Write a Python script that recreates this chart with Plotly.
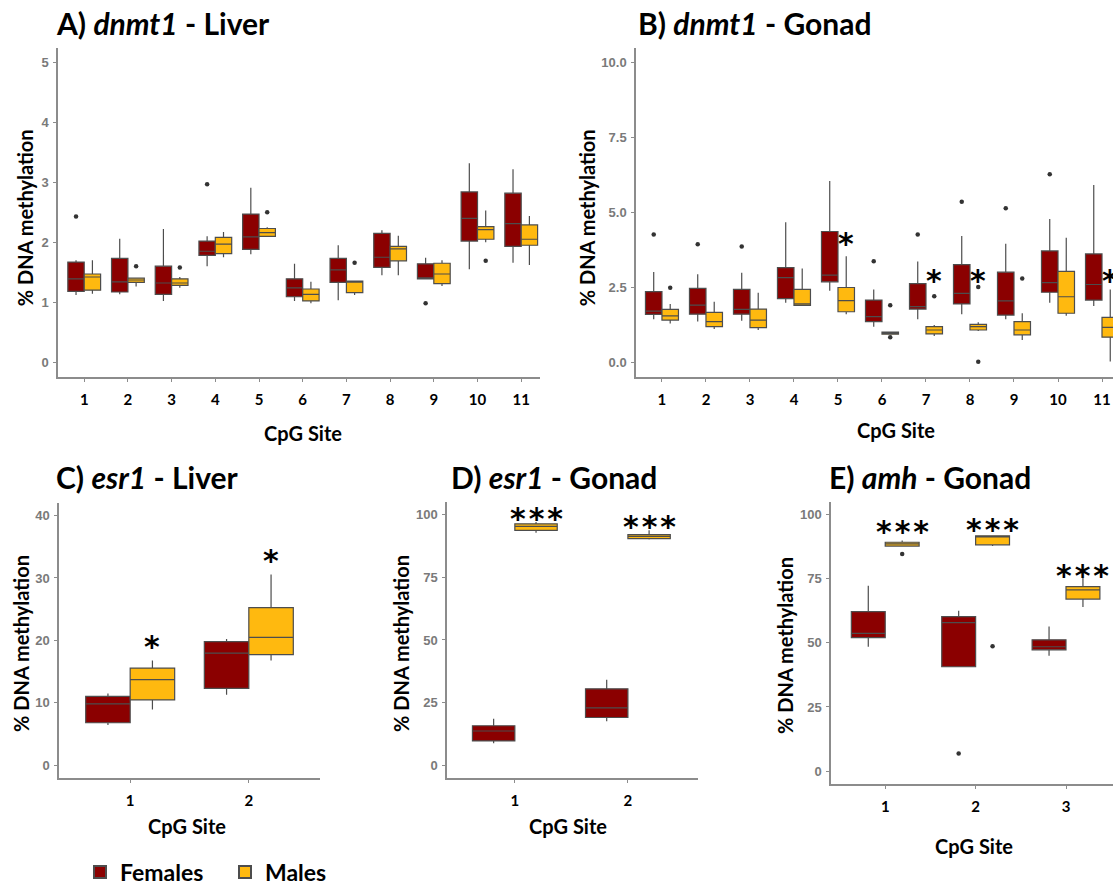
import plotly.graph_objects as go

W, H = 1113, 894
FEMALE = "#8B0000"
MALE = "#FFB90F"
OFF = 0.1875
BW = 0.375

# ---------------- Panel A: dnmt1 - Liver ----------------
a_sites = list(range(1, 12))
a_f_low = [1.12, 1.13, 1.02, 1.60, 1.80, 1.02, 1.03, 1.45, 1.39, 1.55, 1.66]
a_f_q1 = [1.18, 1.17, 1.13, 1.78, 1.88, 1.09, 1.33, 1.58, 1.39, 2.02, 1.93]
a_f_med = [1.39, 1.34, 1.32, 1.85, 2.09, 1.24, 1.54, 1.75, 1.39, 2.40, 2.31]
a_f_q3 = [1.67, 1.73, 1.60, 2.02, 2.47, 1.39, 1.73, 2.15, 1.64, 2.84, 2.82]
a_f_high = [1.70, 2.06, 2.22, 2.10, 2.91, 1.64, 1.95, 2.20, 1.74, 3.32, 3.22]
a_f_out_site = [1, 4, 9]
a_f_out_val = [2.43, 2.97, 0.98]
a_m_low = [1.14, 1.26, 1.24, 1.75, 2.10, 0.98, 1.12, 1.45, 1.27, 2.00, 1.62]
a_m_q1 = [1.20, 1.33, 1.28, 1.81, 2.10, 1.02, 1.16, 1.69, 1.31, 2.05, 1.95]
a_m_med = [1.42, 1.37, 1.32, 1.97, 2.16, 1.13, 1.34, 1.89, 1.47, 2.21, 2.05]
a_m_q3 = [1.47, 1.40, 1.39, 2.08, 2.23, 1.22, 1.35, 1.93, 1.65, 2.26, 2.29]
a_m_high = [1.70, 1.41, 1.42, 2.17, 2.25, 1.34, 1.36, 2.11, 1.70, 2.53, 2.44]
a_m_out_site = [2, 3, 5, 7, 10]
a_m_out_val = [1.60, 1.58, 2.50, 1.66, 1.69]
a_sig_site = []
a_sig_val = []
a_sig_text = []
a_yticks = [0, 1, 2, 3, 4, 5]
a_yticklabels = ["0", "1", "2", "3", "4", "5"]

# ---------------- Panel B: dnmt1 - Gonad ----------------
b_sites = list(range(1, 12))
b_f_low = [1.43, 1.35, 1.38, 1.98, 2.38, 1.18, 1.43, 1.60, 1.43, 1.98, 1.87]
b_f_q1 = [1.59, 1.60, 1.60, 2.12, 2.68, 1.35, 1.77, 1.94, 1.57, 2.33, 2.07]
b_f_med = [1.70, 1.90, 1.76, 2.82, 2.90, 1.52, 1.85, 2.29, 2.04, 2.65, 2.59]
b_f_q3 = [2.35, 2.46, 2.43, 3.15, 4.36, 2.07, 2.62, 3.25, 3.00, 3.71, 3.61]
b_f_high = [3.01, 2.93, 2.98, 4.67, 6.05, 2.42, 3.36, 4.21, 3.95, 4.78, 5.91]
b_f_out_site = [1, 2, 3, 6, 7, 8, 9, 10]
b_f_out_val = [4.26, 3.93, 3.86, 3.37, 4.26, 5.35, 5.14, 6.27]
b_m_low = [1.29, 1.10, 1.07, 1.89, 1.60, 0.93, 0.87, 1.04, 0.74, 1.55, 0.02]
b_m_q1 = [1.40, 1.18, 1.15, 1.89, 1.68, 0.93, 0.94, 1.07, 0.91, 1.63, 0.83]
b_m_med = [1.54, 1.35, 1.40, 1.94, 2.05, 0.96, 1.07, 1.18, 1.07, 2.18, 1.16]
b_m_q3 = [1.76, 1.66, 1.77, 2.43, 2.49, 1.00, 1.18, 1.26, 1.35, 3.03, 1.49]
b_m_high = [1.94, 2.01, 2.31, 3.12, 3.53, 1.00, 1.24, 1.33, 1.63, 4.15, 2.42]
b_m_out_site = [1, 6, 6, 7, 8, 8, 9]
b_m_out_val = [2.48, 1.90, 0.83, 2.20, 2.51, 0.01, 2.79]
b_sig_site = [5, 7, 8, 11]
b_sig_val = [4.23, 3.0, 3.0, 3.0]
b_sig_text = ["*", "*", "*", "*"]
b_yticks = [0, 2.5, 5, 7.5, 10]
b_yticklabels = ["0.0", "2.5", "5.0", "7.5", "10.0"]

# ---------------- Panel C: esr1 - Liver ----------------
c_sites = [1, 2]
c_f_low = [6.45, 11.32]
c_f_q1 = [6.82, 12.32]
c_f_med = [9.86, 17.98]
c_f_q3 = [11.06, 19.82]
c_f_high = [11.5, 20.24]
c_f_out_site = []
c_f_out_val = []
c_m_low = [8.96, 16.78]
c_m_q1 = [10.48, 17.72]
c_m_med = [13.74, 20.50]
c_m_q3 = [15.57, 25.27]
c_m_high = [16.78, 30.56]
c_m_out_site = []
c_m_out_val = []
c_sig_site = [1, 2]
c_sig_val = [20.3, 34.1]
c_sig_text = ["*", "*"]
c_yticks = [0, 10, 20, 30, 40]
c_yticklabels = ["0", "10", "20", "30", "40"]

# ---------------- Panel D: esr1 - Gonad ----------------
d_sites = [1, 2]
d_f_low = [8.82, 17.6]
d_f_q1 = [9.74, 19.08]
d_f_med = [13.68, 22.9]
d_f_q3 = [15.79, 30.5]
d_f_high = [18.55, 34.1]
d_f_out_site = []
d_f_out_val = []
d_m_low = [92.8, 90.1]
d_m_q1 = [93.7, 90.4]
d_m_med = [95.26, 91.3]
d_m_q3 = [96.3, 92.0]
d_m_high = [97.0, 93.7]
d_m_out_site = []
d_m_out_val = []
d_sig_site = [1, 2]
d_sig_val = [101.6, 98.3]
d_sig_text = ["*\u200a*\u200a*", "*\u200a*\u200a*"]
d_yticks = [0, 25, 50, 75, 100]
d_yticklabels = ["0", "25", "50", "75", "100"]

# ---------------- Panel E: amh - Gonad ----------------
e_sites = [1, 2, 3]
e_f_low = [48.5, 40.7, 45.0]
e_f_q1 = [52.1, 40.7, 47.3]
e_f_med = [53.7, 57.9, 48.5]
e_f_q3 = [62.2, 60.3, 51.2]
e_f_high = [72.3, 62.6, 56.4]
e_f_out_site = [2]
e_f_out_val = [6.8]
e_m_low = [87.8, 87.8, 64.0]
e_m_q1 = [87.8, 88.3, 67.1]
e_m_med = [88.7, 91.5, 70.7]
e_m_q3 = [89.3, 91.8, 72.0]
e_m_high = [90.0, 91.8, 75.4]
e_m_out_site = [1, 2]
e_m_out_val = [84.7, 48.7]
e_sig_site = [1, 2, 3]
e_sig_val = [96.8, 97.3, 79.4]
e_sig_text = ["*\u200a*\u200a*", "*\u200a*\u200a*", "*\u200a*\u200a*"]
e_yticks = [0, 25, 50, 75, 100]
e_yticklabels = ["0", "25", "50", "75", "100"]

panels = [
    dict(key="A", sites=a_sites,
         f=(a_f_low, a_f_q1, a_f_med, a_f_q3, a_f_high), fo=(a_f_out_site, a_f_out_val),
         m=(a_m_low, a_m_q1, a_m_med, a_m_q3, a_m_high), mo=(a_m_out_site, a_m_out_val),
         sig=(a_sig_site, a_sig_val, a_sig_text), yt=(a_yticks, a_yticklabels),
         xd=(58, 540), yd=(48, 380), xr=(0.4, 11.43), yr=(-0.25, 5.25),
         title="<b>A) <i>dnmt1</i> - Liver</b>", tpos=(54, 23),
         ytitle=(25, 220), xtitle=(303, 436)),
    dict(key="B", sites=b_sites,
         f=(b_f_low, b_f_q1, b_f_med, b_f_q3, b_f_high), fo=(b_f_out_site, b_f_out_val),
         m=(b_m_low, b_m_q1, b_m_med, b_m_q3, b_m_high), mo=(b_m_out_site, b_m_out_val),
         sig=(b_sig_site, b_sig_val, b_sig_text), yt=(b_yticks, b_yticklabels),
         xd=(636, 1113), yd=(48, 380), xr=(0.41, 11.25), yr=(-0.5, 10.5),
         title="<b>B) <i>dnmt1</i> - Gonad</b>", tpos=(636, 23),
         ytitle=(587, 220), xtitle=(896, 433)),
    dict(key="C", sites=c_sites,
         f=(c_f_low, c_f_q1, c_f_med, c_f_q3, c_f_high), fo=(c_f_out_site, c_f_out_val),
         m=(c_m_low, c_m_q1, c_m_med, c_m_q3, c_m_high), mo=(c_m_out_site, c_m_out_val),
         sig=(c_sig_site, c_sig_val, c_sig_text), yt=(c_yticks, c_yticklabels),
         xd=(59, 320), yd=(507, 784), xr=(0.4, 2.6), yr=(-2, 42),
         title="<b>C) <i>esr1</i> - Liver</b>", tpos=(54, 481),
         ytitle=(21, 649), xtitle=(187, 833)),
    dict(key="D", sites=d_sites,
         f=(d_f_low, d_f_q1, d_f_med, d_f_q3, d_f_high), fo=(d_f_out_site, d_f_out_val),
         m=(d_m_low, d_m_q1, d_m_med, d_m_q3, d_m_high), mo=(d_m_out_site, d_m_out_val),
         sig=(d_sig_site, d_sig_val, d_sig_text), yt=(d_yticks, d_yticklabels),
         xd=(447, 698), yd=(506, 784), xr=(0.4, 2.62), yr=(-5, 105),
         title="<b>D) <i>esr1</i> - Gonad</b>", tpos=(449, 481),
         ytitle=(401, 649), xtitle=(568, 833)),
    dict(key="E", sites=e_sites,
         f=(e_f_low, e_f_q1, e_f_med, e_f_q3, e_f_high), fo=(e_f_out_site, e_f_out_val),
         m=(e_m_low, e_m_q1, e_m_med, e_m_q3, e_m_high), mo=(e_m_out_site, e_m_out_val),
         sig=(e_sig_site, e_sig_val, e_sig_text), yt=(e_yticks, e_yticklabels),
         xd=(831, 1113), yd=(506, 790), xr=(0.4, 3.52), yr=(-5, 105),
         title="<b>E) <i>amh</i> - Gonad</b>", tpos=(827, 481),
         ytitle=(785, 651), xtitle=(974, 853)),
]

fig = go.Figure()
annotations = []
layout_axes = {}

AXCOL = "#8c8c8c"
TITLE_FONT = dict(family="Lato", size=30, color="black")
LAB_FONT = dict(family="Lato", size=20, color="black", weight="bold")
SIG_FONT = dict(family="DejaVu Sans", size=30, color="black", weight="bold")

for i, p in enumerate(panels):
    n = "" if i == 0 else str(i + 1)
    xa, ya = "x" + n, "y" + n
    for sex, stats, outs, color, name in (("F", p["f"], p["fo"], FEMALE, "Females"),
                                          ("M", p["m"], p["mo"], MALE, "Males")):
        shift = -OFF if sex == "F" else OFF
        xs = [s + shift for s in p["sites"]]
        low, q1, med, q3, high = stats
        fig.add_trace(go.Box(
            x=xs, lowerfence=low, q1=q1, median=med, q3=q3, upperfence=high,
            width=BW, fillcolor=color, line=dict(color="#4d4d4d", width=1.2),
            whiskerwidth=0, name=name, legendgroup=name, showlegend=(i == 0),
            xaxis=xa, yaxis=ya, boxpoints=False, hoverinfo="skip"))
        if outs[0]:
            fig.add_trace(go.Scatter(
                x=[s + shift for s in outs[0]], y=outs[1], mode="markers",
                marker=dict(size=4.5, color="#333333"), showlegend=False,
                xaxis=xa, yaxis=ya, hoverinfo="skip"))
    for s, v, t in zip(*p["sig"]):
        annotations.append(dict(x=s + OFF, y=v, xref=xa, yref=ya, text=t,
                                showarrow=False, yshift=-8, font=SIG_FONT,
                                xanchor="center", yanchor="middle"))
    layout_axes["xaxis" + n] = dict(
        domain=[p["xd"][0] / W, p["xd"][1] / W], range=list(p["xr"]), anchor=ya,
        tickmode="array", tickvals=p["sites"], ticktext=[str(s) for s in p["sites"]],
        showline=True, linecolor=AXCOL, linewidth=1.5, ticks="outside", ticklen=3,
        tickcolor=AXCOL, showgrid=False, zeroline=False, ticklabelstandoff=5,
        tickfont=dict(family="Lato", size=15, color="black", weight="bold"), fixedrange=True)
    layout_axes["yaxis" + n] = dict(
        domain=[1 - p["yd"][1] / H, 1 - p["yd"][0] / H], range=list(p["yr"]), anchor=xa,
        tickmode="array", tickvals=p["yt"][0], ticktext=p["yt"][1],
        showline=True, linecolor=AXCOL, linewidth=1.5, ticks="outside", ticklen=3,
        tickcolor=AXCOL, showgrid=False, zeroline=False, ticklabelstandoff=2,
        tickfont=dict(family="Liberation Sans", size=13, color="#7a7a7a", weight="bold"),
        fixedrange=True)
    annotations.append(dict(x=p["tpos"][0] / W, y=1 - p["tpos"][1] / H, xref="paper", yref="paper",
                            text=p["title"], showarrow=False, xanchor="left", yanchor="middle",
                            font=TITLE_FONT))
    annotations.append(dict(x=p["ytitle"][0] / W, y=1 - p["ytitle"][1] / H, xref="paper",
                            yref="paper", text="% DNA methylation", textangle=-90,
                            showarrow=False, xanchor="center", yanchor="middle", font=LAB_FONT))
    annotations.append(dict(x=p["xtitle"][0] / W, y=1 - p["xtitle"][1] / H, xref="paper",
                            yref="paper", text="CpG Site", showarrow=False,
                            xanchor="center", yanchor="middle", font=LAB_FONT))

fig.update_layout(
    width=W, height=H, margin=dict(l=0, r=0, t=0, b=0),
    paper_bgcolor="white", plot_bgcolor="white",
    annotations=annotations,
    legend=dict(orientation="h", x=80 / W, y=1 - 879 / H, xanchor="left", yanchor="middle",
                entrywidth=100, entrywidthmode="pixels",
                font=dict(family="Lato", size=23, color="black", weight="bold"),
                itemsizing="constant", bgcolor="rgba(0,0,0,0)"),
    **layout_axes,
)

fig.write_html("out.html")
